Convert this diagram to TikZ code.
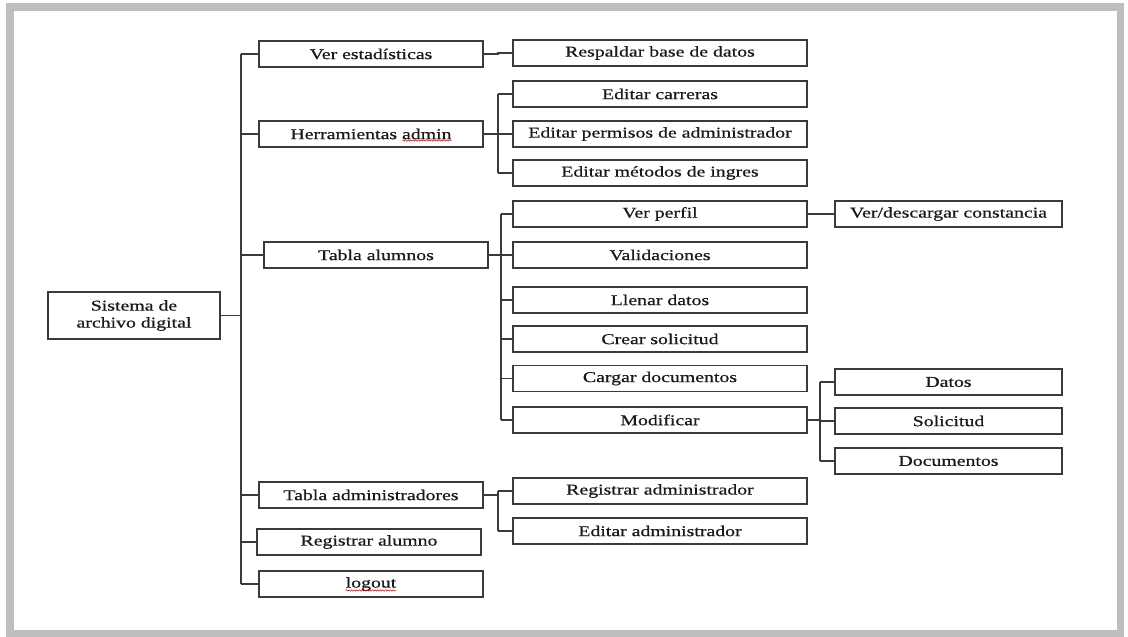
\documentclass[tikz,border=0pt]{standalone}
\usepackage{fontspec}
\setmainfont{Liberation Serif}[FakeStretch=1.32, FakeBold=0.6]
\usetikzlibrary{decorations.pathmorphing}
\definecolor{frame}{HTML}{BEBEBE}
\definecolor{ink}{HTML}{3A3A3A}
\newcommand\boxfont{\fontsize{15}{17}\selectfont}
% width of a text in the box font, stored globally in #1
\newcommand\measuretext[2]{{\boxfont\pgfmathsetmacro\tmpw{width("#2")}\global\let#1\tmpw}}
\begin{document}
\begin{tikzpicture}[x=1pt,y=-1pt,
  box/.style={draw=ink, line width=1.3pt, inner sep=0pt, minimum height=26pt,
    text=black!90, font=\boxfont, align=center},
  lv1/.style={box, minimum width=224pt},
  lv2/.style={box, minimum width=294pt},
  lv3/.style={box, minimum width=227pt},
  link/.style={draw=ink, line width=1.3pt},
  wave/.style={draw=red!85!black, line width=0.5pt,
    decorate, decoration={snake, amplitude=0.7pt, segment length=2.6pt}}]
% page and frame
\fill[white] (0,0) rectangle (1128,637);
\useasboundingbox (0,0) rectangle (1128,637);
\fill[frame] (6,3) rectangle (1124,637);
\fill[white] (14,11) rectangle (1117,630);

% root
\node[box, minimum width=172pt, minimum height=47pt] (root) at (134,315.5) {Sistema de\\archivo digital};

% first level
\node[lv1] (ve)  at (371,54)  {Ver estadísticas};
\node[lv1] (ha)  at (371,134) {Herramientas admin};
\node[lv1] (ta)  at (376,255) {Tabla alumnos};
\node[lv1] (tad) at (371,495) {Tabla administradores};
\node[lv1] (ra)  at (369,542) {Registrar alumno};
\node[lv1] (lo)  at (371,584) {logout};

% second level
\node[lv2] (rb)  at (660,53)  {Respaldar base de datos};
\node[lv2] (ec)  at (660,94)  {Editar carreras};
\node[lv2] (ep)  at (660,134) {Editar permisos de administrador};
\node[lv2] (em)  at (660,173) {Editar métodos de ingres};
\node[lv2] (vp)  at (660,214) {Ver perfil};
\node[lv2] (va)  at (660,255) {Validaciones};
\node[lv2] (ld)  at (660,300) {Llenar datos};
\node[lv2] (cs)  at (660,339) {Crear solicitud};
\node[lv2] (cd)  at (660,378.5) {Cargar documentos};
\node[lv2] (mo)  at (660,420) {Modificar};
\node[lv2] (rad) at (660,491) {Registrar administrador};
\node[lv2] (ead) at (660,531) {Editar administrador};

% third level
\node[lv3] (vd)  at (948.5,214) {Ver/descargar constancia};
\node[lv3] (da)  at (948.5,382) {Datos};
\node[lv3] (so)  at (948.5,421) {Solicitud};
\node[lv3] (dc)  at (948.5,461) {Documentos};

% spell-check marks under "admin" and "logout"
\measuretext\wha{Herramientas admin}
\measuretext\wad{admin}
\measuretext\wlo{logout}
\draw[wave] ([xshift=\wha/2-\wad, yshift=-6.5pt]ha.center) -- ([xshift=\wha/2, yshift=-6.5pt]ha.center);
\draw[wave] ([xshift=-\wlo/2, yshift=-6.5pt]lo.center) -- ([xshift=\wlo/2, yshift=-6.5pt]lo.center);

% bus positions
\coordinate (t0) at (241,0);
\coordinate (t1) at (498,0);
\coordinate (t2) at (501,0);
\coordinate (t3) at (498,0);
\coordinate (t4) at (820,0);

% root trunk
\draw[link] (root.east) -- (t0 |- root.east);
\draw[link] (t0 |- ve.west) -- (t0 |- lo.west);
\foreach \n in {ve,ha,ta,tad,ra,lo} \draw[link] (\n.west) -- (t0 |- \n.west);

% Ver estadisticas
\draw[link] (ve.east) -- (t1 |- ve.east) -- (t1 |- rb.west) -- (rb.west);

% Herramientas admin
\draw[link] (ha.east) -- (t1 |- ha.east);
\draw[link] (t1 |- ec.west) -- (t1 |- em.west);
\foreach \n in {ec,ep,em} \draw[link] (t1 |- \n.west) -- (\n.west);

% Tabla alumnos
\draw[link] (ta.east) -- (t2 |- ta.east);
\draw[link] (t2 |- vp.west) -- (t2 |- mo.west);
\foreach \n in {vp,va,ld,cs,cd,mo} \draw[link] (t2 |- \n.west) -- (\n.west);
\draw[link] (vp.east) -- (vd.west);

% Modificar
\draw[link] (mo.east) -- (t4 |- mo.east);
\draw[link] (t4 |- da.west) -- (t4 |- dc.west);
\foreach \n in {da,so,dc} \draw[link] (t4 |- \n.west) -- (\n.west);

% Tabla administradores
\draw[link] (tad.east) -- (t3 |- tad.east);
\draw[link] (t3 |- rad.west) -- (t3 |- ead.west);
\foreach \n in {rad,ead} \draw[link] (t3 |- \n.west) -- (\n.west);
\end{tikzpicture}
\end{document}
